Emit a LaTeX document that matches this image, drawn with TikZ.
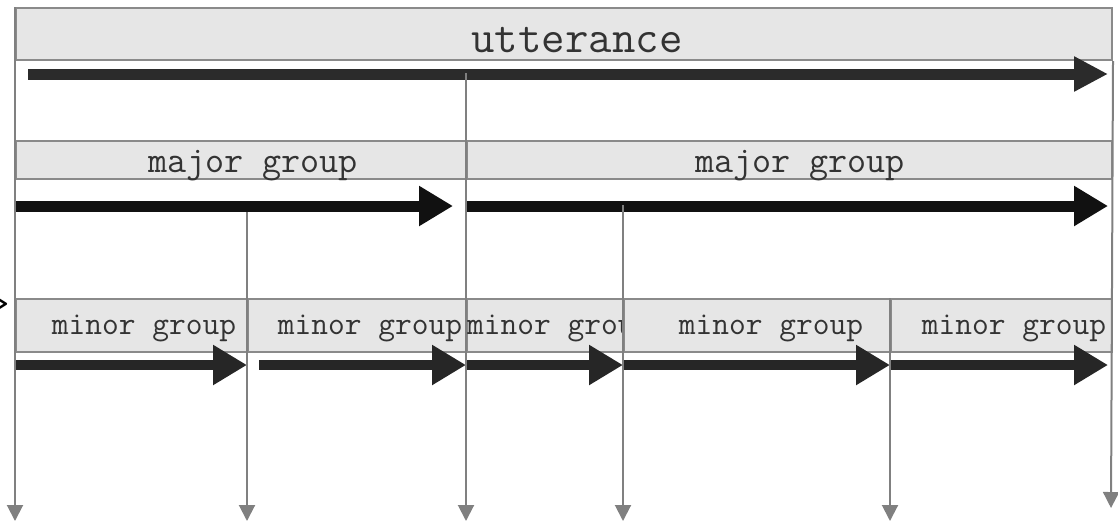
\documentclass[tikz,border=0pt]{standalone}
\usepackage{fontspec}
\usetikzlibrary{arrows.meta}

\definecolor{boxfill}{HTML}{E6E6E6}
\definecolor{boxline}{HTML}{8A8A8A}
\definecolor{cutgray}{HTML}{808080}
\definecolor{labelgray}{HTML}{333333}
\definecolor{uttdark}{HTML}{2B2B2B}
\definecolor{majdark}{HTML}{111111}
\definecolor{mindark}{HTML}{262626}

\begin{document}
\begin{tikzpicture}[x=1pt, y=-1pt,
    groupbox/.style={draw=boxline, fill=boxfill, line width=2pt, inner sep=0pt, anchor=north west},
    grouptext/.style={text=labelgray, inner sep=0pt},
    uttfont/.style={font=\ttfamily\fontsize{45.5}{52}\selectfont},
    majfont/.style={font=\ttfamily\fontsize{37}{44}\selectfont},
    minfont/.style={font=\ttfamily\fontsize{32.5}{38}\selectfont},
    flow/.style={line width=11pt, -{Triangle[length=34pt,width=38pt]}},
    cut/.style={draw=cutgray, line width=2pt, -{Triangle[length=16pt,width=16pt]}}]

    \useasboundingbox (0,0) rectangle (1118,523);

    \node[font=\ttfamily\bfseries\fontsize{30}{34}\selectfont, anchor=east, inner sep=0pt] (edge) at (9,305) {>};

    \node[groupbox, minimum width=1096pt, minimum height=52pt] (utt) at (15,7) {};
    \node[grouptext, uttfont] (utttext) at (577,40) {utterance};

    \node[groupbox, minimum width=451pt, minimum height=38pt] (maj1) at (15,140) {};
    \node[grouptext, majfont] (maj1text) at (253,166) {major group};
    \node[groupbox, minimum width=645pt, minimum height=38pt] (maj2) at (466,140) {};
    \node[grouptext, majfont] (maj2text) at (800,166) {major group};

    \node[groupbox, minimum width=232pt, minimum height=53pt] (mn1) at (15,298) {};
    \node[grouptext, minfont] (mn1text) at (144,328) {minor group};
    \node[groupbox, minimum width=219pt, minimum height=53pt] (mn2) at (247,298) {};
    \node[grouptext, minfont] (mn2text) at (370,328) {minor group};
    \node[groupbox, minimum width=157pt, minimum height=53pt] (mn3) at (466,298) {};
    \node[grouptext, minfont, anchor=west] (mn3text) at (467,328) {minor group};
    \node[groupbox, minimum width=267pt, minimum height=53pt] (mn4) at (623,298) {};
    \node[grouptext, minfont] (mn4text) at (771,328) {minor group};
    \node[groupbox, minimum width=221pt, minimum height=53pt] (mn5) at (890,298) {};
    \node[grouptext, minfont] (mn5text) at (1014,328) {minor group};

    \coordinate (u0) at (28,74);
    \coordinate (u1) at (1108,74);
    \coordinate (a0) at (15,206);
    \coordinate (a1) at (453,206);
    \coordinate (a2) at (466,206);
    \coordinate (a3) at (1108,206);
    \coordinate (b0) at (15,365);
    \coordinate (b1) at (247,365);
    \coordinate (b2) at (259,365);
    \coordinate (b3) at (466,365);
    \coordinate (b4) at (623,365);
    \coordinate (b5) at (890,365);
    \coordinate (b6) at (1108,365);

    \draw[flow, draw=uttdark, -{Triangle[length=34pt,width=33pt]}, fill=uttdark] (u0) -- (u1);

    \draw[flow, draw=majdark, fill=majdark] (a0) -- (a1);
    \draw[flow, draw=majdark, fill=majdark] (a2) -- (a3);

    \draw[flow, draw=mindark, fill=mindark, line width=10pt] (b0) -- (b1);
    \draw[flow, draw=mindark, fill=mindark, line width=10pt] (b2) -- (b3);
    \draw[flow, draw=mindark, fill=mindark, line width=10pt] (b3) -- (b4);
    \draw[flow, draw=mindark, fill=mindark, line width=10pt] (b4) -- (b5);
    \draw[flow, draw=mindark, fill=mindark, line width=10pt] (b5) -- (b6);

    \coordinate (c1) at (466,73);
    \coordinate (c2) at (247,212);
    \coordinate (c3) at (623,205);
    \coordinate (e0) at (15,521);
    \coordinate (e1) at (247,521);
    \coordinate (e2) at (466,521);
    \coordinate (e3) at (623,521);
    \coordinate (e4) at (890,521);
    \coordinate (e5) at (1111,508);

    \draw[cut] (utt.north west) -- (e0);
    \draw[cut] (c2) -- (e1);
    \draw[cut] (c1) -- (e2);
    \draw[cut] (c3) -- (e3);
    \draw[cut] (mn5.north west) -- (e4);
    \draw[cut] (utt.south east) -- (e5);
\end{tikzpicture}
\end{document}
